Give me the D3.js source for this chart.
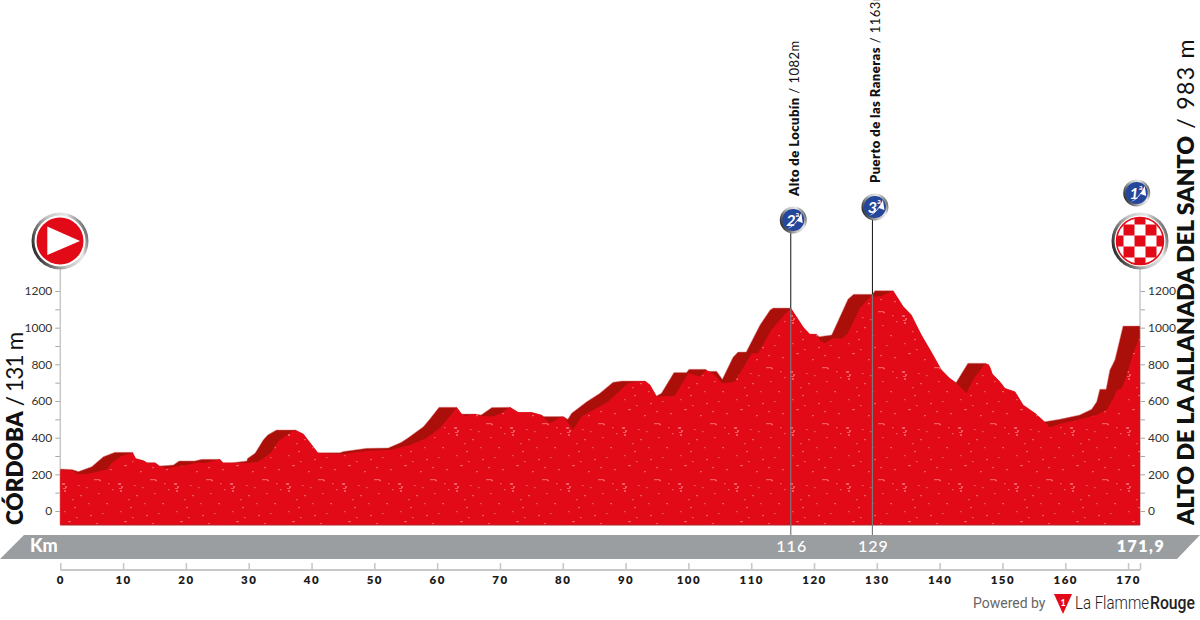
<!DOCTYPE html>
<html>
<head>
<meta charset="utf-8">
<script src="https://cdn.jsdelivr.net/npm/d3@7"></script>
<style>
html, body { margin: 0; padding: 0; background: #fff; overflow: hidden; }
text { font-family: Lato, "Open Sans", sans-serif; }
</style>
</head>
<body>
<svg id="chart" width="1200" height="620"></svg>
<script>
// [km, metres]
const ridgeProfile = [[0,229],[1.8,227],[2.9,215],[5,242],[6.85,296],[8.7,320],[11.5,320],[12,287],[13.3,274],[13.8,263],[15.1,263],[15.8,245],[18,251],[18.9,273],[21.4,273],[22.5,282],[25.4,282],[25.9,263],[27.3,263],[29.7,273],[29.8,287],[31,315],[32.3,387],[33,414],[34.4,442],[37.4,442],[38.7,420],[41,318],[44.5,318],[45.1,325],[48.8,342],[52.2,344],[54.3,375],[55.4,400],[57.8,460],[58.9,505],[60.3,566],[63.1,566],[63.9,529],[66,529],[67,524],[68.7,564],[71.6,566],[72.9,538],[75,538],[76.6,524],[77,515],[80.1,515],[80.8,500],[81.4,533],[83.8,596],[85.9,642],[88,702],[89.4,709],[93.1,709],[93.9,687],[94.9,627],[95.7,642],[97.7,755],[99.7,755],[100.1,773],[102.8,773],[103,762],[104.5,762],[105.4,718],[107.1,838],[107.9,867],[109.2,867],[111.4,1015],[113,1096],[113.5,1107],[116.3,1107],[118.3,1002],[119.3,966],[120.4,964],[120.8,951],[122.8,960],[123.3,997],[125.4,1155],[126.3,1182],[129.3,1182],[129.7,1202],[132.6,1202],[134.2,1115],[135.5,1069],[137.1,960],[138.5,878],[140.3,769],[141.6,724],[142.6,700],[144.5,806],[147.4,806],[148,787],[148.4,747],[149.6,705],[150.4,669],[152,651],[153.3,578],[155.2,533],[156.7,487],[159.1,500],[162.3,524],[164.2,555],[165,596],[165.5,664],[166.5,664],[167.1,769],[167.9,824],[169.2,1009],[171.9,1009]]
const frontProfile = [[0,222],[1.8,222],[2.1,215],[2.9,200],[4.7,205],[7.4,227],[8.4,269],[9.8,300],[11.4,316],[11.5,320],[12,287],[13.3,274],[13.8,263],[15.1,263],[15.8,245],[16.9,233],[20.1,251],[21.7,263],[23.3,263],[24.4,274],[25.4,282],[25.9,263],[27.3,263],[29.7,260],[31.5,269],[32.3,287],[33.6,320],[34.7,380],[36.3,420],[37.4,442],[38.7,420],[41,318],[44.8,309],[48.8,329],[52.5,333],[55.7,360],[58.3,397],[60.4,451],[62,515],[63.1,566],[63.9,529],[64.7,515],[65.2,527],[66,529],[67,518],[68.9,515],[70.3,536],[71.3,560],[71.6,566],[72.9,538],[75,538],[76.6,524],[77.2,500],[78,478],[79.8,515],[80.3,509],[81.6,442],[83,515],[85.4,560],[87.2,596],[90.4,697],[93.1,709],[93.9,687],[94.9,627],[95.4,624],[97.8,627],[100,751],[101.8,733],[102.9,769],[104,747],[105.4,697],[105.8,697],[107.4,705],[108.2,751],[110.1,860],[111.1,860],[113.2,987],[114.8,1051],[116.3,1107],[118.3,1002],[119.3,966],[120.4,964],[120.9,933],[121.7,915],[123,942],[123.8,942],[124.4,938],[125.4,969],[127.3,1106],[129.2,1178],[129.7,1169],[130.8,1173],[132.6,1202],[134.2,1115],[135.5,1069],[137.1,960],[138.5,878],[140.3,769],[141.6,724],[142.6,700],[144.3,642],[145.3,715],[147.2,802],[147.8,800],[148,787],[148.4,747],[149.6,705],[150.4,669],[152,651],[153.3,578],[155.2,533],[156.7,487],[157.5,456],[159.1,475],[162.3,500],[165,524],[166.6,551],[167.7,615],[168.2,660],[169,669],[169.8,742],[170.8,860],[171.9,951]]
const elevTicks = [0,100,200,300,400,500,600,700,800,900,1000,1100,1200]
const kmTicks = [0,10,20,30,40,50,60,70,80,90,100,110,120,130,140,150,160,170,171.9]
const climbNames = ['Alto de Locubín', 'Puerto de las Raneras']
const climbHeights = ['1082m', '1163m']
const climbKm = [116.3, 129.3]
const climbLabels = ['116', '129']
const climbCats = ['2', '3']
const totalKm = 171.9
const baseElev = -76

const themeRed = '#e30a17'
const themeDark = '#ab0f0a'
const axisGrey = '#c8c8c8'

var svg = d3.select('#chart')
var defs = svg.append('defs')

var xScale = d3.scaleLinear().domain([0, totalKm]).range([60.3, 1140])
var yScale = d3.scaleLinear().domain([0, 1200]).range([511, 291])

// ring gradient used on all the round icons
let ring = defs.append('linearGradient').attr('id', 'ring')
    .attr('x1', 0).attr('y1', 0.7).attr('x2', 1).attr('y2', 0.3)
ring.append('stop').attr('offset', '0%').attr('stop-color', '#1e1e1e')
ring.append('stop').attr('offset', '45%').attr('stop-color', '#c4c4c4')
ring.append('stop').attr('offset', '75%').attr('stop-color', '#e8e8e8')
ring.append('stop').attr('offset', '100%').attr('stop-color', '#555')

// speckle texture on the profile, repeats every 56px
let speckle = defs.append('pattern').attr('id', 'speckle')
    .attr('patternUnits', 'userSpaceOnUse').attr('width', 56).attr('height', 56)
    .attr('x', 60).attr('y', 477)
speckle.append('rect').attr('width', 56).attr('height', 56).attr('fill', themeRed)
let specks = [[2,6,3,2],[5,9,2,2],[3,11,3,1],[4,13,2,2],[34,2,6,1.2],[39,3,2,1.2],[20,18,2,1.2],[14,30,2,1.2],[46,26,2,1.2],[30,38,2,1.2],[8,44,3,1.2],[50,48,2,1.2],[24,50,2,1.2],[38,16,1.5,1.2],[18,8,1.5,1.2],[52,12,1.5,1.2],[12,22,1.5,1.2],[28,26,1.5,1.2],[42,36,1.5,1.2],[36,46,2,1.2],[16,40,1.5,1.2],[4,34,1.5,1.2],[48,6,1.5,1.2],[26,10,1.5,1.2]]
speckle.selectAll('rect.s').data(specks).enter().append('rect').attr('class', 's')
    .attr('x', d => d[0]).attr('y', d => d[1]).attr('width', d => d[2]).attr('height', d => d[3])
    .attr('fill', '#f76a70').attr('opacity', 0.8)

// ---- grey km band
svg.append('polygon')
    .attr('points', '0,559 24,535 1200,535 1177,559')
    .attr('fill', '#9b9ea0')

// ---- elevation axes
let yAxisLeft = d3.axisLeft(yScale).tickValues(elevTicks).tickSize(5).tickPadding(3)
    .tickFormat(d => d % 200 === 0 ? d : '')
let yAxisRight = d3.axisRight(yScale).tickValues(elevTicks).tickSize(5).tickPadding(3)
    .tickFormat(d => d % 200 === 0 ? d : '')

function styleElevAxis(g) {
    g.select('.domain').remove()
    g.selectAll('line').attr('stroke', '#a8a8a8').attr('stroke-width', 1)
    g.selectAll('text').attr('fill', '#333').style('font-size', '12px')
}
svg.append('g').attr('transform', 'translate(' + xScale(0) + ',0)').call(yAxisLeft).call(styleElevAxis)
svg.append('g').attr('transform', 'translate(' + xScale(totalKm) + ',0)').call(yAxisRight).call(styleElevAxis)

svg.selectAll('line.side').data([0, totalKm]).enter().append('line').attr('class', 'side')
    .attr('x1', d => xScale(d)).attr('x2', d => xScale(d))
    .attr('y1', 268).attr('y2', yScale(baseElev))
    .attr('stroke', axisGrey).attr('stroke-width', 1.5)

// ---- profile
let area = d3.area().x(d => xScale(d[0])).y0(yScale(baseElev)).y1(d => yScale(d[1]))

svg.append('path').datum(ridgeProfile).attr('d', area).attr('fill', themeDark)
    .attr('stroke', '#d98080').attr('stroke-width', 0.5)
svg.append('path').datum(frontProfile).attr('d', area).attr('fill', 'url(#speckle)')
svg.append('line')
    .attr('x1', xScale(0)).attr('x2', xScale(totalKm))
    .attr('y1', yScale(baseElev)).attr('y2', yScale(baseElev))
    .attr('stroke', '#b5202a').attr('stroke-width', 1)

// ---- climbs: black stem above the summit, grey line through the profile
let summitOf = km => ridgeProfile.find(p => p[0] >= km)[1]
let badgeY = [220, 207]

climbKm.forEach((km, i) => {
    let cx = xScale(km)
    svg.append('line').attr('x1', cx).attr('x2', cx)
        .attr('y1', badgeY[i]).attr('y2', yScale(summitOf(km)))
        .attr('stroke', '#111').attr('stroke-width', 1)
    svg.append('line').attr('x1', cx).attr('x2', cx)
        .attr('y1', yScale(summitOf(km))).attr('y2', 535)
        .attr('stroke', '#7a7a7a').attr('stroke-width', 1.2)

    let label = svg.append('text')
        .attr('transform', 'translate(' + (cx + 8) + ',' + (badgeY[i] - 24) + ') rotate(-90)')
        .attr('fill', '#111').style('font-size', '13px').style('letter-spacing', '0.45px')
    label.append('tspan').style('font-weight', 800).text(climbNames[i])
    label.append('tspan').style('font-weight', 400).text(' / ' + climbHeights[i])

    svg.append('text').attr('x', cx + 1).attr('y', 552).attr('text-anchor', 'middle')
        .attr('fill', '#fff').style('font-size', '16px').style('font-weight', 500).style('letter-spacing', '1px')
        .text(climbLabels[i])
    drawBadge(cx + 2.5, badgeY[i], climbCats[i])
})
drawBadge(1136.7, 193, '1')

function drawBadge(cx, cy, cat) {
    let g = svg.append('g').attr('transform', 'translate(' + cx + ',' + cy + ')')
    g.append('circle').attr('r', 13.5).attr('fill', 'url(#ring)')
    g.append('circle').attr('r', 11).attr('fill', '#24479b')
    // white swoosh under the number
    g.append('path').attr('d', 'M-6,9 Q3,4 8,-7 L9.5,3 L4,1 Q1,6 -6,9 Z').attr('fill', '#fff')
    g.append('text').attr('x', -2.5).attr('y', 5.5).attr('text-anchor', 'middle')
        .attr('fill', '#fff')
        .style('font-size', '16px').style('font-weight', 700).style('font-style', 'italic')
        .text(cat)
    g.append('text').attr('x', 4).attr('y', -3.5).attr('text-anchor', 'middle')
        .attr('fill', '#fff').style('font-size', '7px').style('font-weight', 700).text('a')
}

// ---- start icon
let start = svg.append('g').attr('transform', 'translate(60,241)')
start.append('circle').attr('r', 28.5).attr('fill', 'url(#ring)')
start.append('circle').attr('r', 25.5).attr('fill', '#fff')
start.append('circle').attr('r', 23.5).attr('fill', themeRed)
start.append('path').attr('d', 'M-12.7,-14.5 L20,0 L-12.7,14 Z').attr('fill', '#fff')

// ---- finish icon
let finish = svg.append('g').attr('transform', 'translate(1140,241)')
finish.append('circle').attr('r', 28.5).attr('fill', 'url(#ring)')
finish.append('circle').attr('r', 25.5).attr('fill', '#fff')
defs.append('clipPath').attr('id', 'finishClip').append('circle').attr('r', 23.5)
let cells = d3.range(-2, 3)
let checker = finish.append('g').attr('clip-path', 'url(#finishClip)')
checker.append('circle').attr('r', 23.5).attr('fill', '#fff')
cells.forEach(i => cells.forEach(j => {
    if ((i + j + 2) % 2 === 0) {
        checker.append('rect').attr('x', i * 11 - 5.5).attr('y', j * 11 - 5.5)
            .attr('width', 11).attr('height', 11).attr('fill', themeRed)
    }
}))
finish.append('circle').attr('r', 23.5).attr('fill', 'none').attr('stroke', themeRed).attr('stroke-width', 1.5)

// ---- km band labels
svg.append('text').attr('x', 30).attr('y', 552).attr('fill', '#fff')
    .style('font-size', '18px').style('font-weight', 900).text('Km')
svg.append('text').attr('x', xScale(totalKm) + 1).attr('y', 552).attr('text-anchor', 'middle')
    .attr('fill', '#fff').style('font-size', '16px').style('font-weight', 800).style('letter-spacing', '1.5px')
    .text('171,9')

// ---- km axis
let kmAxis = d3.axisBottom(xScale).tickValues(kmTicks).tickSize(-7).tickPadding(6)
    .tickFormat(d => d === totalKm ? '' : d)
svg.append('g').attr('transform', 'translate(0,570)').call(kmAxis).call(g => {
    g.select('.domain').remove()
    g.selectAll('line').attr('stroke', axisGrey).attr('stroke-width', 1.6)
    g.selectAll('text').attr('fill', '#1a1a1a').style('font-size', '11.5px')
        .style('font-weight', 800).style('letter-spacing', '1.5px')
})
svg.append('line').attr('x1', xScale(0)).attr('x2', xScale(totalKm)).attr('y1', 570).attr('y2', 570)
    .attr('stroke', axisGrey).attr('stroke-width', 2)

// ---- rotated start / finish names
let startLabel = svg.append('text').attr('transform', 'translate(23,525) rotate(-90)')
    .attr('fill', '#111').style('font-size', '22.5px')
startLabel.append('tspan').style('font-weight', 800).text('CÓRDOBA')
startLabel.append('tspan').style('font-weight', 400).style('letter-spacing', '-0.8px').text(' / 131 m')

let finishLabel = svg.append('text').attr('transform', 'translate(1194,525) rotate(-90)')
    .attr('fill', '#111').style('font-size', '23.1px')
finishLabel.append('tspan').style('font-weight', 800).text('ALTO DE LA ALLANADA DEL SANTO')
finishLabel.append('tspan').style('font-weight', 400).style('letter-spacing', '1.3px').text(' / 983 m')

// ---- footer
svg.append('text').attr('x', 973).attr('y', 608).attr('fill', '#666')
    .style('font-family', 'Roboto').style('font-size', '14px').text('Powered by')
svg.append('path').attr('d', 'M1054,594 L1072,594 L1063,614 Z').attr('fill', themeRed)
svg.append('text').attr('x', 1063).attr('y', 606).attr('text-anchor', 'middle').attr('fill', '#fff')
    .style('font-size', '9px').style('font-weight', 700).text('1')
svg.append('text').attr('x', 1075).attr('y', 609).attr('fill', '#222')
    .attr('textLength', 74).attr('lengthAdjust', 'spacingAndGlyphs')
    .style('font-family', 'Roboto').style('font-size', '18px').style('font-weight', 300)
    .text('La Flamme')
svg.append('text').attr('x', 1150).attr('y', 609).attr('fill', '#222')
    .attr('textLength', 45).attr('lengthAdjust', 'spacingAndGlyphs')
    .style('font-family', 'Roboto').style('font-size', '18px').style('font-weight', 500)
    .text('Rouge')
</script>
</body>
</html>
